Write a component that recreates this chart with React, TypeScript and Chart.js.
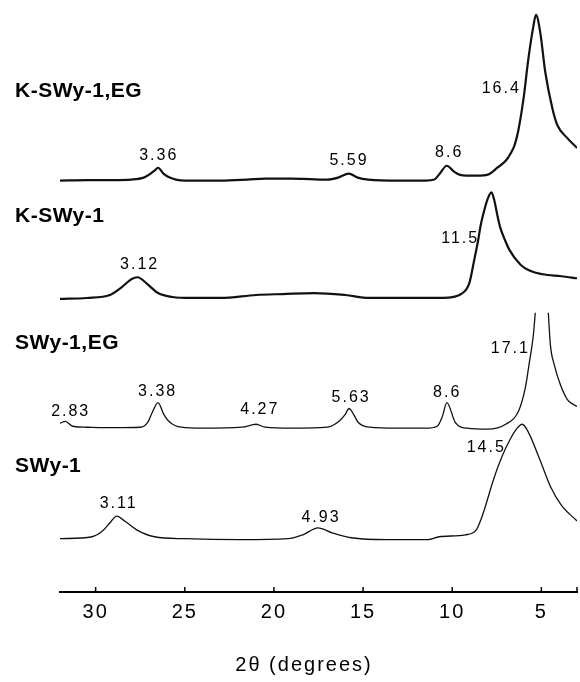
import React, { useEffect, useRef } from "react";
import { Chart, registerables } from "chart.js";

Chart.register(...registerables);

// Pattern names (top to bottom)
const seriesNames = ["K-SWy-1,EG", "K-SWy-1", "SWy-1,EG", "SWy-1"];

// Diffractogram traces: 2θ (degrees) and intensity above each pattern's baseline
const kEgTheta = [32.0, 30.5, 29.0, 28.0, 27.3, 27.0, 26.7, 26.5, 26.2, 25.85, 25.5, 25.0, 23.0, 21.5, 20.5, 19.0, 18.0, 17.0, 16.4, 15.8, 15.3, 14.7, 13.0, 11.5, 11.0, 10.7, 10.3, 9.9, 9.6, 9.2, 8.6, 8.0, 7.47, 7.0, 6.74, 6.5, 6.3, 6.0, 5.73, 5.45, 5.3, 5.06, 4.78, 4.38, 4.1, 3.54, 3.0];
const kEgCounts = [0, 0.5, 0.5, 1, 3, 6, 10, 13, 7, 3, 1, 0, 0, 1, 2, 2, 1.5, 1, 3, 7, 3, 1, 0, 0, 1, 7, 15, 9, 6, 5, 5, 6, 13, 20, 27, 36, 50, 83, 123, 156, 168, 150, 110, 73, 56, 43, 33];

const kTheta = [32.0, 30.5, 29.2, 28.6, 28.0, 27.65, 27.1, 26.5, 25.7, 24.6, 23.0, 21.0, 19.5, 17.75, 16.0, 14.66, 12.0, 10.5, 9.5, 9.04, 8.76, 8.54, 8.4, 8.2, 8.0, 7.8, 7.64, 7.47, 7.3, 7.0, 6.8, 6.18, 5.56, 4.94, 3.88, 3.0];
const kCounts = [0, 1, 4, 11, 20, 22, 15, 6, 2, 1, 1, 4, 5, 6, 4, 1, 1, 1, 5, 16, 40, 60, 75, 90, 102, 108, 100, 85, 72, 58, 50, 35, 28, 25, 23, 21];

const egTheta = [32.0, 31.7, 31.3, 30.5, 29.0, 27.5, 27.08, 26.8, 26.5, 26.18, 25.84, 25.2, 24.0, 21.8, 21.0, 20.5, 19.0, 17.0, 16.35, 16.0, 15.79, 15.5, 15.28, 14.66, 13.0, 11.5, 10.84, 10.55, 10.3, 9.83, 9.16, 8.0, 7.0, 6.29, 5.9, 5.67, 5.45, 5.34, 5.0, 4.61, 4.49, 4.27, 3.93, 3.54, 3.2, 3.0];
const egCounts = [5, 7, 2, 1, 0.5, 1, 6, 17, 26, 14, 6, 1, 0, 1, 4, 1, 0, 1, 7, 14, 20, 13, 6, 1, 0, 0, 2, 12, 26, 6, 0, -1, 4, 17, 41, 67, 94, 117, null, 117, 84, 64, 44, 29, 24, 22];

const swTheta = [32.0, 30.2, 29.6, 29.16, 28.82, 28.37, 27.7, 26.7, 25.0, 21.9, 19.2, 18.37, 17.53, 16.74, 15.67, 13.65, 11.35, 10.73, 9.27, 8.65, 8.26, 7.7, 7.19, 6.74, 6.4, 6.07, 5.73, 5.06, 4.49, 3.88, 3.0];
const swCounts = [0, 2, 8, 17, 23, 18, 9, 2, 0, -1, 0, 4, 11, 6, 1, -1, -1, 2, 4, 9, 26, 59, 84, 101, 111, 116, 108, 79, 53, 34, 18];

// d-spacing labels (Å): text, 2θ position, pattern index, height above baseline
const peakText = ["3.36", "5.59", "8.6", "16.4", "3.12", "11.5", "2.83", "3.38", "4.27", "5.63", "8.6", "17.1", "3.11", "4.93", "14.5"];
const peakTheta = [26.46, 15.79, 10.17, 7.25, 27.53, 9.55, 31.4, 26.52, 20.79, 15.67, 10.28, 6.74, 28.71, 17.36, 8.09];
const peakSeries = [0, 0, 0, 0, 1, 1, 2, 2, 2, 2, 2, 2, 3, 3, 3];
const peakHeight = [25, 20, 28, 93, 35, 61, 17, 37, 19, 31, 36, 81, 36, 21, 92];

// X axis ticks
const tickValues = [30, 25, 20, 15, 10, 5];
const tickLabels = ["30", "25", "20", "15", "10", "5"];
const axisTitle = "2θ (degrees)";

// Layout (vertical offsets of patterns, label placement)
const baselines = [417, 297, 166, 54];
const nameHeights = [91, 84, 86, 73];
const lineWidths = [2.2, 2.2, 1.3, 1.3];
const NAME_LEFT = 15;
const TITLE_X = 304;
const TITLE_Y = 665;
const FONT = "'Liberation Sans', Arial, sans-serif";

const traces = [
  [kEgTheta, kEgCounts],
  [kTheta, kCounts],
  [egTheta, egCounts],
  [swTheta, swCounts],
];

const annotate = {
  id: "annotate",
  beforeDraw(chart: any) {
    chart.ctx.letterSpacing = "2px";
  },
  afterDraw(chart: any) {
    const { ctx, chartArea } = chart;
    const x = chart.scales.x;
    const y = chart.scales.y;
    ctx.save();
    ctx.fillStyle = "#000";
    ctx.strokeStyle = "#000";
    ctx.lineWidth = 1.5;
    [...tickValues, x.min].forEach((v) => {
      const px = x.getPixelForValue(v);
      ctx.beginPath();
      ctx.moveTo(px, chartArea.bottom);
      ctx.lineTo(px, chartArea.bottom - 5);
      ctx.stroke();
    });
    ctx.textBaseline = "middle";
    ctx.textAlign = "left";
    ctx.font = `bold 21px ${FONT}`;
    ctx.letterSpacing = "0.5px";
    seriesNames.forEach((n, i) => {
      ctx.fillText(n, NAME_LEFT, y.getPixelForValue(baselines[i] + nameHeights[i]));
    });
    ctx.textAlign = "center";
    ctx.font = `16px ${FONT}`;
    ctx.letterSpacing = "2px";
    peakText.forEach((t, i) => {
      ctx.fillText(
        t,
        x.getPixelForValue(peakTheta[i]),
        y.getPixelForValue(baselines[peakSeries[i]] + peakHeight[i])
      );
    });
    ctx.font = `20px ${FONT}`;
    ctx.fillText(axisTitle, TITLE_X, TITLE_Y);
    ctx.restore();
  },
};

export default function App() {
  const ref = useRef<HTMLCanvasElement>(null);
  useEffect(() => {
    document.body.style.margin = "0";
    const datasets = traces.map(([th, ct], s) => ({
      label: seriesNames[s],
      data: (th as number[]).map((t, i) => ({
        x: t,
        y: (ct as (number | null)[])[i] === null ? null : ((ct as number[])[i] + baselines[s]),
      })),
      borderColor: "#111",
      borderWidth: lineWidths[s],
      pointRadius: 0,
      cubicInterpolationMode: "monotone" as const,
      spanGaps: false,
      fill: false,
    }));
    const chart = new Chart(ref.current!, {
      type: "line",
      data: { datasets },
      options: {
        animation: false,
        responsive: false,
        events: [],
        layout: { padding: { left: 60, right: 3, top: 0, bottom: 50 } },
        plugins: { legend: { display: false }, tooltip: { enabled: false } },
        scales: {
          x: {
            type: "linear",
            min: 3,
            max: 32,
            reverse: true,
            afterBuildTicks: (s: any) => {
              s.ticks = tickValues.map((v) => ({ value: v }));
            },
            grid: { display: true, drawOnChartArea: false, drawTicks: false },
            border: { display: true, color: "#000", width: 2 },
            ticks: {
              color: "#000",
              padding: 8,
              maxRotation: 0,
              autoSkip: false,
              font: { size: 20, family: FONT },
              callback: (v: any) => {
                const k = tickValues.indexOf(Number(v));
                return k >= 0 ? tickLabels[k] : "";
              },
            },
          },
          y: { display: false, min: 0, max: 600 },
        },
      },
      plugins: [annotate],
    });
    return () => chart.destroy();
  }, []);
  return (
    <div style={{ width: 580, height: 682, background: "#fff" }}>
      <canvas ref={ref} width={580} height={682} style={{ display: "block" }} />
    </div>
  );
}
